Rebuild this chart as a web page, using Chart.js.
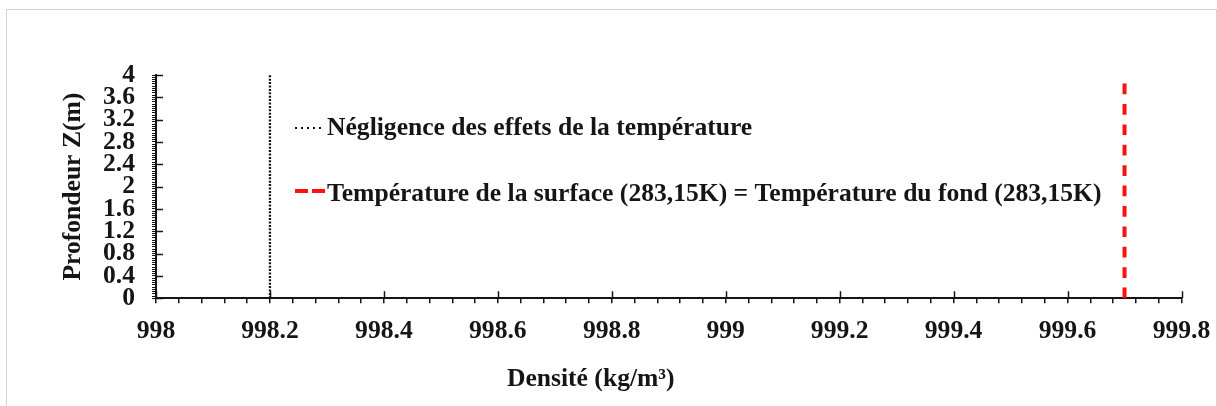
<!DOCTYPE html>
<html lang="fr">
<head>
  <meta charset="UTF-8" />
  <title>Profil de densité</title>
  <script src="https://cdn.jsdelivr.net/npm/chart.js"></script>
  <style>
    html, body { margin: 0; padding: 0; background: #fff; }
    .page { position: relative; width: 1217px; height: 406px; overflow: hidden; }
    .frame {
      position: absolute; left: 6px; top: 9px; width: 1209px; height: 400px;
      border: 1px solid #d4d4d4; border-bottom: none;
    }
    canvas { position: absolute; left: 0; top: 0; }
  </style>
</head>
<body>
  <div class="page">
    <div class="frame"></div>
    <canvas id="densityChart" width="1217" height="406"></canvas>
  </div>

  <script>
    // profile depths (m) and density for each case (kg/m3)
    const depths = [0, 4];
    const densityNoTemp = [998.2, 998.2];
    const densitySameTemp = [999.7, 999.7];
    const seriesNames = [
      'Négligence des effets de la température',
      'Température de la surface (283,15K) = Température du fond (283,15K)'
    ];

    // labelled ticks; minor ticks every 0.04 in between
    const xTickLabels = ['998', '998.2', '998.4', '998.6', '998.8', '999', '999.2', '999.4', '999.6', '999.8'];
    const yTickLabels = ['0', '0.4', '0.8', '1.2', '1.6', '2', '2.4', '2.8', '3.2', '3.6', '4'];

    const INK = '#151515';
    const FONT = "'Liberation Serif', 'Times New Roman', serif";
    Chart.defaults.font.family = FONT;
    Chart.defaults.font.weight = 'bold';
    Chart.defaults.font.size = 25;
    Chart.defaults.color = INK;

    const toPoints = (xs, ys) => xs.map((x, i) => ({ x: x, y: ys[i] }));

    // longer major ticks poking into the plot area
    const majorTicks = {
      id: 'majorTicks',
      afterDraw(chart) {
        const ctx = chart.ctx, area = chart.chartArea;
        const xs = chart.scales.x, ys = chart.scales.y;
        ctx.save();
        ctx.strokeStyle = INK;
        ctx.lineWidth = 1.5;
        ctx.beginPath();
        xs.ticks.forEach((t, i) => {
          if (i % 5) return;
          const px = Math.round(xs.getPixelForTick(i)) + 0.5;
          ctx.moveTo(px, area.bottom);
          ctx.lineTo(px, area.bottom - 7);
        });
        ys.ticks.forEach((t, i) => {
          if (i % 10) return;
          const py = Math.round(ys.getPixelForTick(i)) + 0.5;
          ctx.moveTo(area.left, py);
          ctx.lineTo(area.left + 7, py);
        });
        ctx.stroke();
        ctx.restore();
      }
    };

    // legend written inside the plot, sample line + name
    const inlineLegend = {
      id: 'inlineLegend',
      afterDraw(chart) {
        const ctx = chart.ctx;
        const rows = [
          { y: 128, base: 135, color: INK, width: 2.2, dash: [2, 4], len: 27 },
          { y: 191, base: 201, color: '#ff1010', width: 4, dash: [13, 4], len: 30 }
        ];
        ctx.save();
        rows.forEach((r, i) => {
          ctx.strokeStyle = r.color;
          ctx.lineWidth = r.width;
          ctx.setLineDash(r.dash);
          ctx.beginPath();
          ctx.moveTo(295, r.y);
          ctx.lineTo(295 + r.len, r.y);
          ctx.stroke();
          ctx.setLineDash([]);
          ctx.fillStyle = INK;
          ctx.font = 'bold 25.6px ' + FONT;
          ctx.textBaseline = 'alphabetic';
          ctx.textAlign = 'left';
          ctx.fillText(seriesNames[i], 327, r.base);
        });
        ctx.restore();
      }
    };

    new Chart(document.getElementById('densityChart'), {
      type: 'line',
      data: {
        datasets: [{
          label: seriesNames[0],
          data: toPoints(densityNoTemp, depths),
          borderColor: INK,
          borderWidth: 2.3,
          borderDash: [2, 1.4],
          pointRadius: 0,
          fill: false
        }, {
          label: seriesNames[1],
          data: toPoints(densitySameTemp, depths),
          borderColor: '#ff1010',
          borderWidth: 4,
          borderDash: [10.7, 9.7],
          pointRadius: 0,
          fill: false
        }]
      },
      options: {
        responsive: false,
        animation: false,
        devicePixelRatio: 1,
        layout: { padding: { left: 0, top: 75, right: 35.5, bottom: 0 } },
        plugins: {
          legend: { display: false },
          tooltip: { enabled: false },
          title: {
            display: true,
            position: 'bottom',
            text: 'Densité (kg/m³)',
            color: INK,
            font: { size: 25.6, weight: 'bold' },
            padding: { top: 0, bottom: 11 }
          }
        },
        scales: {
          x: {
            type: 'linear',
            min: 998,
            max: 999.8,
            afterFit: (s) => {
              s.height = 66;
              // the end labels may hang past the plot edge
              s.paddingLeft = 0;
              s.paddingRight = 0;
            },
            border: { display: true, color: INK, width: 2 },
            grid: { drawOnChartArea: false, drawTicks: true, tickLength: 5, color: INK, lineWidth: 1.5 },
            ticks: {
              stepSize: 0.04,
              autoSkip: false,
              maxRotation: 0,
              minRotation: 0,
              padding: 13,
              font: { size: 25.6 },
              callback: (v, i) => (i % 5 === 0 ? xTickLabels[i / 5] : '')
            }
          },
          y: {
            type: 'linear',
            min: 0,
            max: 4,
            afterFit: (s) => { s.width = 156; },
            border: { display: true, color: INK, width: 2 },
            grid: { drawOnChartArea: false, drawTicks: true, tickLength: 4, color: INK, lineWidth: 1 },
            title: {
              display: true,
              text: 'Profondeur Z(m)',
              color: INK,
              font: { size: 25.6, weight: 'bold' },
              padding: { top: 58, bottom: 0 }
            },
            ticks: {
              stepSize: 0.04,
              autoSkip: false,
              padding: 17,
              font: { size: 25.6 },
              callback: (v, i) => (i % 10 === 0 ? yTickLabels[i / 10] : '')
            }
          }
        }
      },
      plugins: [majorTicks, inlineLegend]
    });
  </script>
</body>
</html>
